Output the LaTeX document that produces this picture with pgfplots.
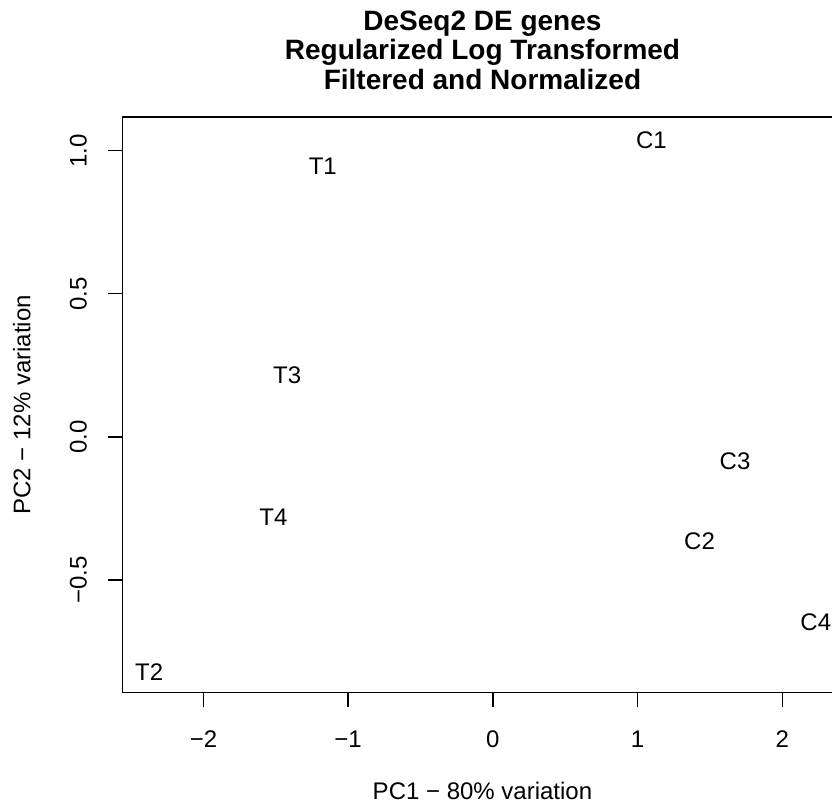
\documentclass[border=0pt]{standalone}
\usepackage{pgfplots}
\pgfplotsset{compat=1.18}
\usepackage{fontspec}
\setmainfont{Liberation Sans}
\begin{document}
\begin{tikzpicture}
\begin{axis}[
  at={(91.9pt,85.0pt)}, anchor=south west,
  scale only axis, width=539.9pt, height=431.8pt,
  xmin=-2.559, xmax=2.415, ymin=-0.894, ymax=1.118,
  axis line style={line width=1.1pt},
  every tick/.style={black, line width=1.1pt},
  tick align=outside, tick pos=left,
  major tick length=11pt,
  xtick={-2,-1,0,1,2},
  xticklabels={−2,−1,0,1,2},
  ytick={-0.5,0,0.5,1},
  yticklabels={−0.5,0.0,0.5,1.0},
  tick label style={font=\fontsize{18}{20}\selectfont},
  xticklabel style={anchor=center, yshift=-24.2pt},
  yticklabel style={anchor=center, xshift=-22.1pt, rotate=90},
  xlabel={PC1 − 80\% variation},
  ylabel={PC2 − 12\% variation},
  label style={font=\fontsize{18}{20}\selectfont},
  xlabel style={at={(rel axis cs:0.5,-0.171)}, anchor=center, inner sep=0pt},
  ylabel style={at={(rel axis cs:-0.140,0.5)}, anchor=center, rotate=0},
  title={DeSeq2 DE genes\\Regularized Log Transformed\\Filtered and Normalized},
  title style={at={(rel axis cs:0.5,1.102)}, anchor=center, align=center,
    font=\fontsize{21}{22}\selectfont\bfseries},
  clip=false,
]
\addplot[only marks, mark=none, nodes near coords, point meta=explicit symbolic,
  nodes near coords style={anchor=center, font=\fontsize{18}{20}\selectfont, inner sep=0pt}]
  table[meta=label]{
x y label
-1.175 0.945 T1
1.095 1.038 C1
-1.421 0.217 T3
1.673 -0.087 C3
-1.517 -0.281 T4
1.428 -0.366 C2
2.231 -0.647 C4
-2.375 -0.821 T2
};
\end{axis}
\pgfresetboundingbox
\useasboundingbox (0,0) rectangle (624pt,604.5pt);
\end{tikzpicture}
\end{document}
